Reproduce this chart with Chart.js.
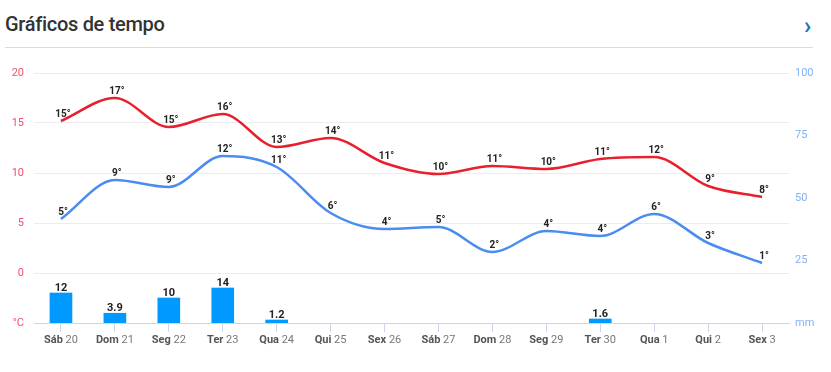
<!DOCTYPE html>
<html>
<head>
<meta charset="utf-8">
<script src="https://cdn.jsdelivr.net/npm/chart.js@4"></script>
<style>
  html, body { margin: 0; padding: 0; background: #fff; }
  body { width: 831px; height: 372px; position: relative; overflow: hidden; font-family: Roboto, "Noto Sans", sans-serif; }
  .title { position: absolute; left: 5px; top: 12px; font-size: 20px; font-weight: 500; color: #333; letter-spacing: -0.3px; }
  .chev { position: absolute; left: 804px; top: 12px; font-size: 24px; color: #1a75b8; font-weight: bold; }
  .rule { position: absolute; left: 5px; top: 47px; width: 808px; height: 1px; background: #dcdcdc; }
  .wrap { position: absolute; left: 0; top: 50px; width: 831px; height: 322px; }
</style>
</head>
<body>
<div class="title">Gráficos de tempo</div>
<div class="chev">&#x203A;</div>
<div class="rule"></div>
<div class="wrap"><canvas id="c"></canvas></div>
<script>
const days = ['Sáb', 'Dom', 'Seg', 'Ter', 'Qua', 'Qui', 'Sex', 'Sáb', 'Dom', 'Seg', 'Ter', 'Qua', 'Qui', 'Sex']
const dates = ['20', '21', '22', '23', '24', '25', '26', '27', '28', '29', '30', '1', '2', '3']
const labels = days.map((d, i) => d + ' ' + dates[i])

// smoothed curve values as drawn, and the rounded numbers printed on them
const maxTemp = [15.2, 17.5, 14.6, 15.9, 12.6, 13.5, 11.0, 9.9, 10.7, 10.4, 11.4, 11.6, 8.7, 7.6]
const maxLabels = [15, 17, 15, 16, 13, 14, 11, 10, 11, 10, 11, 12, 9, 8]
const minTemp = [5.4, 9.3, 8.6, 11.7, 10.6, 6.0, 4.4, 4.6, 2.1, 4.2, 3.7, 5.9, 3.0, 1.0]
const minLabels = [5, 9, 9, 12, 11, 6, 4, 5, 2, 4, 4, 6, 3, 1]
const precip = [12, 3.9, 10, 14, 1.2, null, null, null, null, null, 1.6, null, null, null]

const pointLabels = {
  id: 'pointLabels',
  afterDatasetsDraw(chart) {
    const ctx = chart.ctx
    ctx.save()
    ctx.fillStyle = '#222'
    ctx.textAlign = 'center'
    ctx.textBaseline = 'middle'
    chart.data.datasets.forEach((ds, di) => {
      const meta = chart.getDatasetMeta(di)
      meta.data.forEach((el, i) => {
        const v = ds.data[i]
        if (v === null) return
        if (ds.type === 'bar') {
          ctx.font = 'bold 11px Roboto, sans-serif'
          ctx.fillText(String(v), el.x, el.y - 5)
        } else {
          ctx.font = 'bold 10px Roboto, sans-serif'
          ctx.fillText(ds.shown[i] + '°', el.x + 2, el.y - 7)
        }
      })
    })
    ctx.restore()
  }
}

const dayTicks = {
  id: 'dayTicks',
  afterDraw(chart) {
    const ctx = chart.ctx
    const x = chart.scales.x
    const y = x.top + 17
    ctx.save()
    ctx.textBaseline = 'middle'
    ctx.textAlign = 'left'
    labels.forEach((l, i) => {
      const px = x.getPixelForTick(i)
      ctx.font = 'bold 11px Roboto, sans-serif'
      const w1 = ctx.measureText(days[i] + ' ').width
      ctx.font = '11px Roboto, sans-serif'
      const w2 = ctx.measureText(dates[i]).width
      const start = px - (w1 + w2) / 2
      ctx.font = 'bold 11px Roboto, sans-serif'
      ctx.fillStyle = '#555'
      ctx.fillText(days[i] + ' ', start, y)
      ctx.font = '11px Roboto, sans-serif'
      ctx.fillStyle = '#777'
      ctx.fillText(dates[i], start + w1, y)
    })
    ctx.restore()
  }
}

new Chart(document.getElementById('c'), {
  data: {
    labels: labels,
    datasets: [
      {
        type: 'line', data: maxTemp, shown: maxLabels, yAxisID: 'y',
        borderColor: '#e8202e', borderWidth: 2.5, pointRadius: 0, tension: 0.4,
        cubicInterpolationMode: 'monotone', order: 1
      },
      {
        type: 'line', data: minTemp, shown: minLabels, yAxisID: 'y',
        borderColor: '#4a8cf0', borderWidth: 2.5, pointRadius: 0, tension: 0.4,
        cubicInterpolationMode: 'monotone', order: 2
      },
      {
        type: 'bar', data: precip, yAxisID: 'y1',
        backgroundColor: '#0099ff', barThickness: 22, order: 3
      }
    ]
  },
  options: {
    responsive: true,
    maintainAspectRatio: false,
    animation: false,
    layout: { padding: { top: 23, bottom: 19, left: 0, right: 0 } },
    plugins: { legend: { display: false }, tooltip: { enabled: false } },
    scales: {
      x: {
        offset: true,
        grid: { offset: false, drawOnChartArea: false, drawTicks: true, tickLength: 9, color: '#ccd6eb' },
        border: { color: '#ccd6eb', width: 1 },
        ticks: { color: 'rgba(0,0,0,0)', font: { size: 11 }, padding: 3, maxRotation: 0, autoSkip: false },
        afterFit(s) { s.height = 30 }
      },
      y: {
        position: 'left',
        min: -5, max: 20,
        ticks: {
          stepSize: 5, color: '#f0506a', padding: 10,
          font: { size: 11, family: 'Roboto' },
          callback: v => v === -5 ? '°C' : v
        },
        grid: { drawTicks: false, color: ctx => ctx.tick && ctx.tick.value === -5 ? 'rgba(0,0,0,0)' : '#ececec' },
        border: { display: false },
        afterFit(s) { s.width = 34 }
      },
      y1: {
        position: 'right',
        min: 0, max: 100,
        ticks: {
          stepSize: 25, color: '#7eb2f7', padding: 6,
          font: { size: 11, family: 'Roboto' },
          callback: v => v === 0 ? 'mm' : v
        },
        grid: { display: false, drawTicks: false },
        border: { display: false },
        afterFit(s) { s.width = 42 }
      }
    }
  },
  plugins: [pointLabels, dayTicks]
})
</script>
</body>
</html>
